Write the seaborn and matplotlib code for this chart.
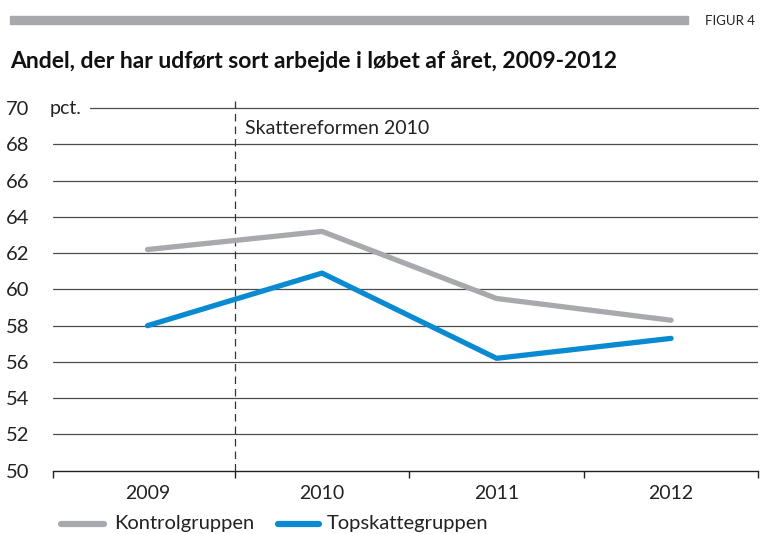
import pandas as pd
import matplotlib.pyplot as plt
import seaborn as sns

# data
years = ["2009", "2010", "2011", "2012"]
kontrol = [62.2, 63.2, 59.5, 58.3]
topskat = [58.0, 60.9, 56.2, 57.3]
series_names = ["Kontrolgruppen", "Topskattegruppen"]
yticks = [50, 52, 54, 56, 58, 60, 62, 64, 66, 68, 70]

df = pd.DataFrame({
    "pos": list(range(len(years))) * 2,
    "value": kontrol + topskat,
    "gruppe": [series_names[0]] * len(years) + [series_names[1]] * len(years),
})

sns.set_style("white")
plt.rcParams['font.family'] = ['Lato', 'DejaVu Sans']

fig = plt.figure(figsize=(7.64, 5.34), dpi=100)
ax = fig.add_axes([0.069, 0.1185, 0.9236, 0.679])

palette = {"Kontrolgruppen": "#a7a9ac", "Topskattegruppen": "#0a8ad0"}
sns.lineplot(data=df, x="pos", y="value", hue="gruppe", palette=palette,
             linewidth=3.8, ax=ax, legend=False, solid_capstyle="round", zorder=3)

x_left = -0.543
ax.set_xlim(x_left, 3.5)
ax.set_ylim(50, 70)

# horizontal gridlines (top one starts after "pct.")
for v in yticks[1:-1]:
    ax.axhline(v, color="#4d4d4d", lw=0.9, zorder=1)
ax.plot([-0.33, 3.5], [70, 70], color="#4d4d4d", lw=0.9, zorder=1, clip_on=False)
ax.text(-0.56, 70, "pct.", fontsize=14, va="center", ha="left", color="#222222", clip_on=False)

ax.axvline(0.5, ymax=1.03, color="#333333", lw=0.9, ls=(0, (6, 4)), zorder=2, clip_on=False)
ax.text(0.56, 68.9, "Skattereformen 2010", fontsize=14, va="center", ha="left", color="#222222")

for side in ["left", "right", "top"]:
    ax.spines[side].set_visible(False)
ax.spines["bottom"].set_color("#222222")
ax.spines["bottom"].set_linewidth(1.0)

ax.set_yticks(yticks)
ax.set_yticklabels([str(v) for v in yticks], fontsize=14.5, color="#222222")
ax.tick_params(axis="y", left=False, length=0, pad=17)

ax.set_xticks([x_left, 0.5, 1.5, 2.5, 3.5])
ax.set_xticklabels([])
ax.set_xticks(range(len(years)), minor=True)
ax.set_xticklabels(years, minor=True, fontsize=14, color="#222222")
ax.tick_params(axis="x", which="major", bottom=True, direction="out", length=5, width=1, color="#222222")
ax.tick_params(axis="x", which="minor", bottom=False, length=0, pad=10)
ax.set_xlabel("")
ax.set_ylabel("")

# header bar and title
fig.patches.append(plt.Rectangle((10 / 764, 1 - 24 / 534), 678 / 764, 8 / 534,
                                 transform=fig.transFigure, color="#a6a8ab"))
fig.text(705 / 764, 1 - 21 / 534, "FIGUR 4", fontsize=9.5, va="center", ha="left", color="#222222")
fig.text(10 / 764, 1 - 61 / 534, "Andel, der har udført sort arbejde i løbet af året, 2009-2012",
         fontsize=16.5, fontweight="bold", va="center", ha="left", color="#111111")

# legend
ly = 1 - 524 / 534
fig.lines.append(plt.Line2D([61 / 764, 104 / 764], [ly, ly], transform=fig.transFigure,
                            color=palette["Kontrolgruppen"], lw=4.5, solid_capstyle="round"))
fig.text(114 / 764, ly, "Kontrolgruppen", fontsize=14.5, va="center", ha="left", color="#222222")
fig.lines.append(plt.Line2D([278 / 764, 319 / 764], [ly, ly], transform=fig.transFigure,
                            color=palette["Topskattegruppen"], lw=4.5, solid_capstyle="round"))
fig.text(327 / 764, ly, "Topskattegruppen", fontsize=14.5, va="center", ha="left", color="#222222")

fig.savefig("out.png", dpi=100)
